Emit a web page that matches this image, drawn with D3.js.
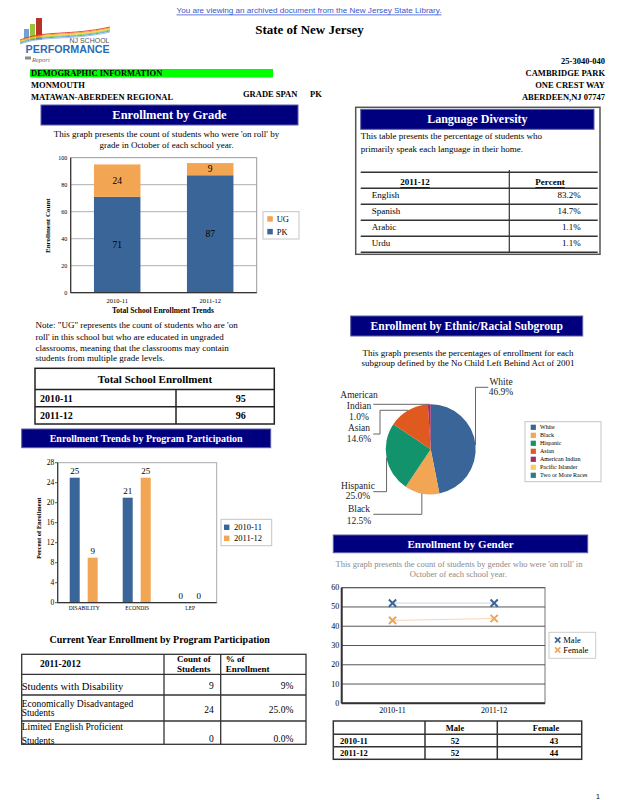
<!DOCTYPE html>
<html><head><meta charset="utf-8">
<script src="https://cdn.jsdelivr.net/npm/d3@7"></script>
<style>body{margin:0;background:#fff}svg{display:block}</style>
</head><body>
<svg id="page" width="618" height="800"></svg>
<script>
// ---------- DATA ----------
const gradeYears = ["2010-11", "2011-12"];
const gradePK = [71, 87];
const gradeUG = [24, 9];
const gradeTicks = [0, 20, 40, 60, 80, 100];

const languages = ["English", "Spanish", "Arabic", "Urdu"];
const languagePct = [83.2, 14.7, 1.1, 1.1];

const totalYears = ["2010-11", "2011-12"];
const totalEnrollment = [95, 96];

const programs = ["DISABILITY", "ECONDIS", "LEP"];
const programSeries = ["2010-11", "2011-12"];
const program2010 = [25, 21, 0];
const program2011 = [9, 25, 0];
const programTicks = [0, 4, 8, 12, 16, 20, 24, 28];

const subgroups = ["White", "Black", "Hispanic", "Asian", "American Indian", "Pacific Islander", "Two or More Races"];
const subgroupPct = [46.9, 12.5, 25.0, 14.6, 1.0, 0, 0];

const genderYears = ["2010-11", "2011-12"];
const maleCounts = [52, 52];
const femaleCounts = [43, 44];
const genderTicks = [0, 10, 20, 30, 40, 50, 60];

const currentPrograms = [["Students with Disability"], ["Economically Disadvantaged", "Students"], ["Limited English Proficient", "Students"]];
const currentCounts = [9, 24, 0];
const currentPct = ["9%", "25.0%", "0.0%"];

// ---------- STYLE ----------
const SERIF = "'Liberation Serif','Times New Roman',serif";
const SANS = "'Liberation Sans',Arial,sans-serif";
const NAVY = "#00007f";
const BLUE = "#3a6599";
const ORANGE = "#f2a552";
const subgroupColors = ["#3a6599", "#f2a552", "#12936b", "#e0591f", "#a42a6b", "#f8cf5c", "#2b7b93"];

const svg = d3.select("#page");

function txt(g, x, y, s, o = {}) {
  const t = g.append("text").attr("x", x).attr("y", y).text(s)
    .attr("font-family", o.ff || SERIF).attr("font-size", o.fs || 9)
    .attr("font-weight", o.fw || "normal").attr("font-style", o.fst || "normal")
    .attr("fill", o.fill || "#000").attr("text-anchor", o.anchor || "start")
    .attr("dominant-baseline", "central");
  if (o.deco) t.attr("text-decoration", o.deco);
  if (o.len) t.attr("textLength", o.len).attr("lengthAdjust", "spacingAndGlyphs");
  return t;
}
function header(x, y, w, h, title, fs) {
  svg.append("rect").attr("x", x).attr("y", y).attr("width", w).attr("height", h)
    .attr("fill", NAVY).attr("stroke", "#5d5da8").attr("stroke-width", 1);
  txt(svg, x + w / 2, y + h / 2, title, {fs: fs, fw: "bold", fill: "#fff", anchor: "middle"});
}
function line(g, x1, y1, x2, y2, c, w) {
  return g.append("line").attr("x1", x1).attr("y1", y1).attr("x2", x2).attr("y2", y2)
    .attr("stroke", c || "#333").attr("stroke-width", w || 1);
}

// ---------- PAGE HEADER ----------
txt(svg, 309, 10, "You are viewing an archived document from the New Jersey State Library.",
  {ff: SANS, fs: 8, fill: "#3a56d0", anchor: "middle", deco: "underline", len: 265});

// logo
const logo = svg.append("g");
[["#6fa3d8", 24, 29, 5, 11], ["#9cc23c", 30, 24, 5, 16], ["#b8322a", 36, 18, 6, 22]].forEach(b =>
  logo.append("rect").attr("x", b[1]).attr("y", b[2]).attr("width", b[3]).attr("height", b[4]).attr("fill", b[0]));
["#d33", "#f90", "#fc3", "#8c4", "#49d", "#9bd"].forEach((c, i) =>
  logo.append("path").attr("d", `M20,${40 + i * 0.8} C45,${30 + i} 70,${36 + i} 110,${27 + i}`)
    .attr("fill", "none").attr("stroke", c).attr("stroke-width", 0.9));
txt(logo, 109.5, 40.5, "NJ SCHOOL", {ff: SANS, fs: 7, fill: "#555", anchor: "end"});
txt(logo, 25.6, 48.5, "PERFORMANCE", {ff: SANS, fs: 10.5, fw: "bold", fill: "#2b6db3", len: 84});
logo.append("rect").attr("x", 25).attr("y", 56.5).attr("width", 6).attr("height", 3).attr("fill", "#8a8a8a");
txt(logo, 32, 59, "Report", {fs: 6.5, fst: "italic", fill: "#666"});

txt(svg, 309.5, 29, "State of New Jersey", {fs: 13, fw: "bold", anchor: "middle"});
["25-3040-040", "CAMBRIDGE PARK", "ONE CREST WAY", "ABERDEEN,NJ 07747"].forEach((s, i) =>
  txt(svg, 605, [61, 72.5, 84.5, 97][i], s, {fs: 8.5, fw: "bold", anchor: "end"}));

svg.append("rect").attr("x", 30).attr("y", 69).attr("width", 243).attr("height", 8.5).attr("fill", "#00ff00");
txt(svg, 31, 73.3, "DEMOGRAPHIC INFORMATION", {fs: 8.5, fw: "bold"});
txt(svg, 31, 85, "MONMOUTH", {fs: 8.5, fw: "bold"});
txt(svg, 31, 97.3, "MATAWAN-ABERDEEN REGIONAL", {fs: 8.5, fw: "bold"});
txt(svg, 243, 94, "GRADE SPAN", {fs: 8.5, fw: "bold"});
txt(svg, 310, 94, "PK", {fs: 8.5, fw: "bold"});

// ---------- ENROLLMENT BY GRADE ----------
header(41, 105, 257, 20, "Enrollment by Grade", 12.5);
txt(svg, 166.5, 134.3, "This graph presents the count of students who were 'on roll' by", {fs: 9, anchor: "middle"});
txt(svg, 166.5, 145, "grade in October of each school year.", {fs: 9, anchor: "middle"});

{
  const g = svg.append("g");
  const x = d3.scaleBand().domain(gradeYears).range([70.7, 256.7]).paddingInner(0.5).paddingOuter(0.25);
  const y = d3.scaleLinear().domain([0, 100]).range([292.7, 157.7]);
  g.append("rect").attr("x", 70.7).attr("y", y(100)).attr("width", 186).attr("height", y(0) - y(100))
    .attr("fill", "#fff").attr("stroke", "#999");
  gradeTicks.forEach(t => {
    if (t > 0 && t < 100) line(g, 70.7, y(t), 256.7, y(t), "#9a9a9a", 0.8);
    txt(g, 67.3, y(t), t, {fs: 6, anchor: "end"});
  });
  const stack = d3.stack().keys(["PK", "UG"])(gradeYears.map((yr, i) => ({yr, PK: gradePK[i], UG: gradeUG[i]})));
  const cols = {PK: BLUE, UG: ORANGE};
  stack.forEach(s => {
    s.forEach(d => {
      g.append("rect").attr("x", x(d.data.yr)).attr("width", x.bandwidth())
        .attr("y", y(d[1])).attr("height", y(d[0]) - y(d[1])).attr("fill", cols[s.key]);
      txt(g, x(d.data.yr) + x.bandwidth() / 2, y((d[0] + d[1]) / 2), d[1] - d[0], {fs: 9.5, anchor: "middle"});
    });
  });
  line(g, 70.7, y(0), 256.7, y(0), "#333", 1.2);
  line(g, 70.7, y(0), 70.7, y(100), "#333", 1.2);
  gradeYears.forEach(yr => txt(g, x(yr) + x.bandwidth() / 2, 300, yr, {fs: 6.5, anchor: "middle"}));
  txt(g, 163, 310, "Total School Enrollment Trends", {fs: 7.5, fw: "bold", anchor: "middle"});
  txt(g, 0, 0, "Enrollment Count", {fs: 7, fw: "bold", anchor: "middle"})
    .attr("transform", "translate(48.3,225.7) rotate(-90)");
  g.append("rect").attr("x", 263).attr("y", 211.7).attr("width", 36).attr("height", 27.3)
    .attr("fill", "#fff").attr("stroke", "#c4c4c4");
  [["UG", ORANGE, 219], ["PK", BLUE, 231.7]].forEach(l => {
    g.append("rect").attr("x", 267.3).attr("y", l[2] - 2.8).attr("width", 5.5).attr("height", 5.5).attr("fill", l[1]);
    txt(g, 276.7, l[2], l[0], {fs: 8.5});
  });
}

["Note: \"UG\" represents the count of students who are 'on",
 "roll' in this school but who are educated in ungraded",
 "classrooms, meaning that the classrooms may contain",
 "students from multiple grade levels."].forEach((s, i) =>
  txt(svg, 35.5, [325, 336.5, 347.5, 358][i], s, {fs: 9}));

// ---------- TOTAL SCHOOL ENROLLMENT TABLE ----------
{
  const g = svg.append("g");
  g.append("rect").attr("x", 35).attr("y", 368.3).attr("width", 239.3).attr("height", 55.7)
    .attr("fill", "#fff").attr("stroke", "#222").attr("stroke-width", 1.5);
  line(g, 35, 389.5, 274.3, 389.5, "#222", 1.5);
  line(g, 35, 406.7, 274.3, 406.7, "#222", 1.5);
  line(g, 176, 389.5, 176, 424, "#222", 1.5);
  txt(g, 155, 378.5, "Total School Enrollment", {fs: 11, fw: "bold", anchor: "middle"});
  totalYears.forEach((yr, i) => {
    const cy = [398.3, 415][i];
    txt(g, 40, cy, yr, {fs: 10, fw: "bold"});
    txt(g, 245.7, cy, totalEnrollment[i], {fs: 10, fw: "bold", anchor: "end"});
  });
}

// ---------- PROGRAM PARTICIPATION CHART ----------
header(21.7, 429, 249, 18.7, "Enrollment Trends by Program Participation", 10);
{
  const g = svg.append("g");
  const x0 = d3.scaleBand().domain(programs).range([57.7, 216.7]);
  const x1 = d3.scaleBand().domain(programSeries)
    .range([x0.bandwidth() / 2 - 14.5, x0.bandwidth() / 2 + 13.5]).paddingInner(0.444);
  const y = d3.scaleLinear().domain([0, 28]).range([602.7, 462.7]);
  g.append("rect").attr("x", 57.7).attr("y", y(28)).attr("width", 159).attr("height", y(0) - y(28))
    .attr("fill", "#fff").attr("stroke", "#aaa");
  programTicks.forEach(t => {
    line(g, 55, y(t), 57.7, y(t), "#333", 0.8);
    txt(g, 54.3, y(t), t, {fs: 7.5, anchor: "end"});
  });
  const vals = [program2010, program2011];
  const cols = [BLUE, ORANGE];
  programs.forEach((p, i) => {
    programSeries.forEach((s, j) => {
      const v = vals[j][i];
      const bx = x0(p) + x1(s);
      g.append("rect").attr("x", bx).attr("width", x1.bandwidth()).attr("y", y(v))
        .attr("height", y(0) - y(v)).attr("fill", cols[j]);
      txt(g, bx + x1.bandwidth() / 2, y(v) - 6.5, v, {fs: 9, anchor: "middle"});
    });
    txt(g, x0(p) + x0.bandwidth() / 2, 607.7, p, {fs: 5.5, anchor: "middle"});
  });
  line(g, 57.7, y(0), 216.7, y(0), "#333", 1.2);
  line(g, 57.7, y(0), 57.7, y(28), "#333", 1.2);
  txt(g, 0, 0, "Percent of Enrollment", {fs: 6.5, fw: "bold", anchor: "middle"})
    .attr("transform", "translate(38.3,528.3) rotate(-90)");
  g.append("rect").attr("x", 221).attr("y", 519.3).attr("width", 50.7).attr("height", 26.4)
    .attr("fill", "#fff").attr("stroke", "#c4c4c4");
  programSeries.forEach((s, j) => {
    const cy = [527.3, 538.3][j];
    g.append("rect").attr("x", 224).attr("y", cy - 2.7).attr("width", 5.4).attr("height", 5.4).attr("fill", cols[j]);
    txt(g, 234, cy, s, {fs: 8.5});
  });
}

// ---------- CURRENT YEAR TABLE ----------
txt(svg, 159.7, 639.3, "Current Year Enrollment by Program Participation", {fs: 10, fw: "bold", anchor: "middle"});
{
  const g = svg.append("g");
  g.append("rect").attr("x", 21.7).attr("y", 654.3).attr("width", 284.3).attr("height", 90)
    .attr("fill", "#fff").attr("stroke", "#333").attr("stroke-width", 1.3);
  [674.3, 695, 721].forEach(yy => line(g, 21.7, yy, 306, yy, "#333", 1.3));
  [164, 220.7].forEach(xx => line(g, xx, 654.3, xx, 744.3, "#333", 1.3));
  txt(g, 40, 664, "2011-2012", {fs: 9.5, fw: "bold"});
  txt(g, 177, 659.3, "Count of", {fs: 9, fw: "bold"});
  txt(g, 177, 669, "Students", {fs: 9, fw: "bold"});
  txt(g, 225.7, 659.3, "% of", {fs: 9, fw: "bold"});
  txt(g, 225.7, 669, "Enrollment", {fs: 9, fw: "bold"});
  const nameY = [[686], [704.3, 713.3], [727.3, 740.7]];
  const valY = [685.5, 710, 739];
  currentPrograms.forEach((lines, i) => {
    lines.forEach((s, k) => txt(g, 21.7, nameY[i][k], s, {fs: i === 0 ? 10.5 : 9.5}));
    txt(g, 213.8, valY[i], currentCounts[i], {fs: 9.5, anchor: "end"});
    txt(g, 293.3, valY[i], currentPct[i], {fs: 9.5, anchor: "end"});
  });
}

// ---------- LANGUAGE DIVERSITY ----------
{
  const g = svg.append("g");
  g.append("rect").attr("x", 355.7).attr("y", 107.3).attr("width", 244.3).attr("height", 147)
    .attr("fill", "#fff").attr("stroke", "#555").attr("stroke-width", 1.5);
  header(360.7, 109.3, 233.3, 20, "Language Diversity", 12);
  txt(g, 360.7, 136, "This table presents the percentage of students who", {fs: 9});
  txt(g, 360.7, 149, "primarily speak each language in their home.", {fs: 9});
  line(g, 360.7, 172.3, 597.7, 172.3, "#333", 1.5);
  line(g, 509.3, 170, 509.3, 252.3, "#333", 1.2);
  txt(g, 415, 182, "2011-12", {fs: 9, fw: "bold", anchor: "middle", deco: "underline"});
  txt(g, 550, 182, "Percent", {fs: 9, fw: "bold", anchor: "middle", deco: "underline"});
  const ry = d3.scaleBand().domain(languages).range([188.3, 252.3]);
  line(g, 360.7, 188.3, 597.7, 188.3, "#333", 1.5);
  languages.forEach((l, i) => {
    line(g, 360.7, ry(l) + ry.bandwidth(), 597.7, ry(l) + ry.bandwidth(), "#333", 1.5);
    const cy = ry(l) + ry.bandwidth() / 2 - 1.3;
    txt(g, 371.7, cy, l, {fs: 9});
    txt(g, 580.7, cy, languagePct[i].toFixed(1) + "%", {fs: 9, anchor: "end"});
  });
}

// ---------- ETHNIC / RACIAL PIE ----------
header(350.7, 316, 232, 20, "Enrollment by Ethnic/Racial Subgroup", 11.5);
txt(svg, 468, 352.7, "This graph presents the percentages of enrollment for each", {fs: 9, anchor: "middle"});
txt(svg, 468, 362.7, "subgroup defined by the No Child Left Behind Act of 2001", {fs: 9, anchor: "middle"});
{
  const cx = 430.7, cy = 449.3, r = 45;
  const g = svg.append("g").attr("transform", `translate(${cx},${cy})`);
  const pie = d3.pie().sort(null).value(d => d.v)(subgroups.map((s, i) => ({s, v: subgroupPct[i]})));
  const arc = d3.arc().innerRadius(0).outerRadius(r);
  g.selectAll("path").data(pie).join("path").attr("d", arc).attr("fill", (d, i) => subgroupColors[i]);
  const labelLayout = {
    "White": {route: (p) => [p, [p[0], 387.3], [488.3, 387.3]], lx: 501, ly: [381.7, 392.3]},
    "American Indian": {route: (p) => [p, [373.3, p[1]]], lx: 359, ly: [395, 405.7, 416.7], lines: ["American", "Indian"]},
    "Asian": {route: (p) => [p, [380, p[1]], [380, 434], [373.3, 434]], lx: 359, ly: [428.3, 439]},
    "Hispanic": {route: (p) => [p, [p[0], 491.7], [373.3, 491.7]], lx: 358, ly: [485.7, 496]},
    "Black": {route: (p) => [p, [p[0], 514.3], [373.3, 514.3]], lx: 359, ly: [509.3, 520.7]}
  };
  pie.forEach(d => {
    const L = labelLayout[d.data.s];
    if (!L || d.data.v === 0) return;
    const a = (d.startAngle + d.endAngle) / 2;
    const p = [cx + r * Math.sin(a), cy - r * Math.cos(a)];
    const pts = L.route(p);
    svg.append("path").attr("d", d3.line()(pts)).attr("fill", "none").attr("stroke", "#555").attr("stroke-width", 0.9);
    const names = L.lines || [d.data.s];
    names.forEach((n, k) => txt(svg, L.lx, L.ly[k], n, {fs: 9.5, anchor: "middle", fill: "#222"}));
    txt(svg, L.lx, L.ly[names.length], d.data.v.toFixed(1) + "%", {fs: 9.5, anchor: "middle", fill: "#222"});
  });
  const lg = svg.append("g");
  lg.append("rect").attr("x", 525).attr("y", 421.7).attr("width", 76).attr("height", 60)
    .attr("fill", "#fff").attr("stroke", "#c4c4c4");
  subgroups.forEach((s, i) => {
    const yy = 427.3 + i * 8;
    lg.append("rect").attr("x", 530.7).attr("y", yy - 2.6).attr("width", 5.2).attr("height", 5.2).attr("fill", subgroupColors[i]);
    txt(lg, 540, yy, s, {fs: 6});
  });
}

// ---------- GENDER ----------
header(333.3, 535, 254.4, 17.7, "Enrollment by Gender", 11);
txt(svg, 459, 564.3, "This graph presents the count of students by gender who were 'on roll' in", {fs: 8.5, anchor: "middle", fill: "#8a8a8a"});
txt(svg, 458.3, 574.3, "October of each school year.", {fs: 8.5, anchor: "middle", fill: "#8a8a8a"});
{
  const g = svg.append("g");
  const x = d3.scalePoint().domain(genderYears).range([341.7, 545]).padding(0.5);
  const y = d3.scaleLinear().domain([0, 60]).range([703.3, 587.7]);
  g.append("rect").attr("x", 341.7).attr("y", y(60)).attr("width", 203.3).attr("height", y(0) - y(60))
    .attr("fill", "#fff").attr("stroke", "#777");
  genderTicks.forEach(t => {
    line(g, 341.7, y(t), 545, y(t), "#555", 1);
    txt(g, 339.3, y(t), t, {fs: 8, anchor: "end"});
  });
  line(g, 341.7, y(0), 545, y(0), "#333", 2);
  line(g, 341.7, y(0), 341.7, y(60), "#333", 2);
  const series = [[maleCounts, BLUE, "#c9d6ea"], [femaleCounts, ORANGE, "#f8d6b4"]];
  const sym = d3.symbol().type(d3.symbolX).size(36);
  series.forEach(s => {
    const pts = genderYears.map((yr, i) => [x(yr), y(s[0][i])]);
    g.append("path").attr("d", d3.line()(pts)).attr("fill", "none").attr("stroke", s[2]).attr("stroke-width", 1);
    pts.forEach(p => g.append("path").attr("d", sym()).attr("transform", `translate(${p[0]},${p[1]})`)
      .attr("fill", "none").attr("stroke", s[1]).attr("stroke-width", 2));
  });
  genderYears.forEach(yr => txt(g, x(yr), 710.7, yr, {fs: 8, anchor: "middle"}));
  g.append("rect").attr("x", 549).attr("y", 632.3).attr("width", 46.7).attr("height", 26)
    .attr("fill", "#fff").attr("stroke", "#ccc");
  [["Male", BLUE, 640], ["Female", ORANGE, 650]].forEach(l => {
    g.append("path").attr("d", d3.symbol().type(d3.symbolX).size(20)()).attr("transform", `translate(557.7,${l[2]})`)
      .attr("fill", "none").attr("stroke", l[1]).attr("stroke-width", 1.6);
    txt(g, 563.3, l[2], l[0], {fs: 8.5});
  });
}
{
  const g = svg.append("g");
  g.append("rect").attr("x", 333.3).attr("y", 721).attr("width", 248.4).attr("height", 38.3)
    .attr("fill", "#fff").attr("stroke", "#333").attr("stroke-width", 1.5);
  [734.3, 746.7].forEach(yy => line(g, 333.3, yy, 581.7, yy, "#333", 1.5));
  [425, 497.3].forEach(xx => line(g, xx, 721, xx, 759.3, "#333", 1.5));
  txt(g, 455, 728, "Male", {fs: 8.5, fw: "bold", anchor: "middle"});
  txt(g, 546, 728, "Female", {fs: 8.5, fw: "bold", anchor: "middle"});
  genderYears.forEach((yr, i) => {
    const cy = [740.5, 753][i];
    txt(g, 340, cy, yr, {fs: 8.5, fw: "bold"});
    txt(g, 459.3, cy, maleCounts[i], {fs: 8.5, fw: "bold", anchor: "end"});
    txt(g, 558.3, cy, femaleCounts[i], {fs: 8.5, fw: "bold", anchor: "end"});
  });
}
txt(svg, 596, 796, "1", {ff: SANS, fs: 7});
</script>
</body></html>
